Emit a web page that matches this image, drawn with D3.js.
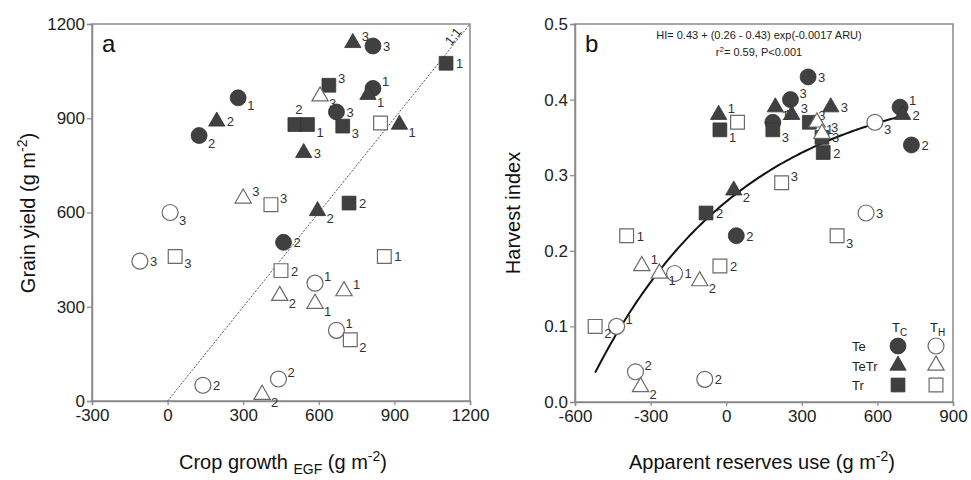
<!DOCTYPE html>
<html>
<head>
<meta charset="utf-8">
<title>Grain yield and harvest index</title>
<script src="https://d3js.org/d3.v7.min.js"></script>
<style>
    body { margin: 0; background: #ffffff; }
    svg { display: block; font-family: Arial, "Liberation Sans", sans-serif; }
</style>
</head>
<body>
<svg id="chart" width="971" height="480"></svg>
<script>
// Point rows: [x, y, year label, label placement]
// Panel a: crop growth EGF vs grain yield
const aTeC   = [[280, 965, '1', 'sub'], [125, 845, '2', 'sub'], [460, 505, '2', 'mid'], [815, 1130, '3', 'mid'], [815, 995, '1', 'sup'], [670, 920, '3', 'mid']];
const aTeTrC = [[195, 890, '2', 'mid'], [735, 1140, '3', 'sup'], [795, 975, '1', 'sub'], [920, 880, '1', 'sub'], [540, 790, '3', 'mid'], [595, 605, '2', 'sub']];
const aTrC   = [[640, 1005, '3', 'sup'], [505, 880, '2', 'top'], [555, 880, '1', 'sub'], [695, 875, '3', 'sub'], [720, 630, '2', 'mid'], [1105, 1075, '1', 'mid']];
const aTeH   = [[10, 600, '3', 'sub'], [-110, 445, '3', 'mid'], [140, 50, '2', 'mid'], [440, 70, '2', 'sup'], [585, 375, '1', 'sup'], [670, 225, '1', 'sup']];
const aTeTrH = [[300, 645, '3', 'sup'], [445, 335, '2', 'sub'], [375, 20, '2', 'sub'], [700, 350, '1', 'sup'], [585, 310, '1', 'sub'], [605, 970, '3', 'sub']];
const aTrH   = [[410, 625, '3', 'sup'], [30, 460, '3', 'sub'], [450, 415, '2', 'mid'], [860, 460, '1', 'mid'], [725, 195, '2', 'sub'], [845, 885, '', 'mid']];

// Panel b: apparent reserves use vs harvest index
const bTeC   = [[325, 0.43, '3', 'mid'], [255, 0.40, '3', 'sup'], [185, 0.37, '1', 'sup'], [690, 0.39, '1', 'sup'], [735, 0.34, '2', 'mid'], [40, 0.22, '2', 'mid']];
const bTeTrC = [[-30, 0.38, '1', 'sup'], [30, 0.28, '2', 'sub'], [195, 0.39, '1', 'sub'], [260, 0.38, '3', 'sup'], [415, 0.39, '3', 'mid'], [700, 0.38, '2', 'mid']];
const bTrC   = [[-25, 0.36, '1', 'sub'], [-80, 0.25, '2', 'mid'], [185, 0.36, '3', 'sub'], [330, 0.37, '3', 'sup'], [380, 0.35, '3', 'mid'], [385, 0.33, '2', 'mid']];
const bTeH   = [[590, 0.37, '3', 'sub'], [555, 0.25, '3', 'mid'], [-205, 0.17, '1', 'mid'], [-435, 0.10, '1', 'sup'], [-360, 0.04, '2', 'sup'], [-85, 0.03, '2', 'mid']];
const bTeTrH = [[360, 0.37, '1', 'sub'], [380, 0.355, '3', 'sup'], [-335, 0.18, '1', 'sup'], [-265, 0.17, '1', 'sub'], [-105, 0.16, '2', 'sub'], [-340, 0.02, '2', 'sub']];
const bTrH   = [[45, 0.37, '', 'mid'], [220, 0.29, '3', 'sup'], [440, 0.22, '3', 'sub'], [-395, 0.22, '1', 'mid'], [-25, 0.18, '2', 'mid'], [-520, 0.10, '2', 'sub']];

// Fitted curve HI = a + (b - a) exp(-c ARU), drawn over the ARU range of the data
const fitA = 0.43, fitB = 0.265, fitC = 0.00166;
const fitRange = [-520, 700];

const xTicksA = [-300, 0, 300, 600, 900, 1200];
const yTicksA = [0, 300, 600, 900, 1200];
const xTicksB = [-600, -300, 0, 300, 600, 900];
const yTicksB = [0, 0.1, 0.2, 0.3, 0.4, 0.5];

const legendRows = ['Te', 'TeTr', 'Tr'];

const FILL = '#404040';
const OPEN_STROKE = '#6a6a6a';
const AXIS = '#8a8a8a';

const svg = d3.select('#chart');

const symbolFor = {
    Te: d3.symbol().type(d3.symbolCircle).size(200),
    TeTr: d3.symbol().type(d3.symbolTriangle).size(115),
    Tr: d3.symbol().type(d3.symbolSquare).size(190)
};

const labelOffset = {
    sub: [9, 12, 'start'],
    mid: [10, 5, 'start'],
    sup: [9, -2, 'start'],
    top: [4, -11, 'middle']
};

// plain hyphen for negatives, as in the original figure
const intFormat = d => String(d);
const decFormat = d => d.toFixed(1);

function drawPanel(cfg) {
    const x = d3.scaleLinear().domain(cfg.xDomain).range([cfg.left, cfg.right]);
    const y = d3.scaleLinear().domain(cfg.yDomain).range([cfg.bottom, cfg.top]);
    const g = svg.append('g');

    // frame
    g.append('rect')
        .attr('x', cfg.left).attr('y', cfg.top)
        .attr('width', cfg.right - cfg.left).attr('height', cfg.bottom - cfg.top)
        .attr('fill', 'none').attr('stroke', AXIS).attr('stroke-width', 1.5);

    const xAxis = g.append('g')
        .attr('transform', `translate(0,${cfg.bottom})`)
        .call(d3.axisBottom(x).tickValues(cfg.xTicks).tickSize(4).tickPadding(4).tickFormat(intFormat));
    const yAxis = g.append('g')
        .attr('transform', `translate(${cfg.left},0)`)
        .call(d3.axisLeft(y).tickValues(cfg.yTicks).tickSize(5).tickPadding(2).tickFormat(cfg.yFormat));

    [xAxis, yAxis].forEach(ax => {
        ax.select('.domain').attr('stroke', AXIS).attr('stroke-width', 1.5);
        ax.selectAll('.tick line').attr('stroke', AXIS).attr('stroke-width', 1.2);
        ax.selectAll('.tick text').attr('fill', '#222').style('font-size', '17px')
            .style('font-family', 'Arial, "Liberation Sans", sans-serif');
    });

    // panel letter
    g.append('text')
        .attr('x', cfg.left + 10).attr('y', cfg.top + 28)
        .style('font-size', '24px').attr('fill', '#111')
        .text(cfg.letter);

    cfg.extra && cfg.extra(g, x, y);

    // points
    const pts = g.append('g');
    cfg.series.forEach(s => {
        s.rows.forEach(r => {
            pts.append('path')
                .attr('d', symbolFor[s.group]())
                .attr('transform', `translate(${x(r[0])},${y(r[1])})`)
                .attr('fill', s.filled ? FILL : '#fff')
                .attr('stroke', s.filled ? '#333' : OPEN_STROKE)
                .attr('stroke-width', s.filled ? 0.8 : 1.2);
            if (r[2]) {
                const o = labelOffset[r[3]];
                pts.append('text')
                    .attr('x', x(r[0]) + o[0]).attr('y', y(r[1]) + o[1])
                    .attr('text-anchor', o[2])
                    .style('font-size', '13px').attr('fill', '#333')
                    .text(r[2]);
            }
        });
    });

    return { x, y, g };
}

// Panel a
drawPanel({
    left: 92, right: 470, top: 24, bottom: 401,
    xDomain: [-300, 1200], yDomain: [0, 1200],
    xTicks: xTicksA, yTicks: yTicksA, yFormat: intFormat,
    letter: 'a',
    series: [
        { rows: aTeC, group: 'Te', filled: true },
        { rows: aTeTrC, group: 'TeTr', filled: true },
        { rows: aTrC, group: 'Tr', filled: true },
        { rows: aTeH, group: 'Te', filled: false },
        { rows: aTeTrH, group: 'TeTr', filled: false },
        { rows: aTrH, group: 'Tr', filled: false }
    ],
    extra: (g, x, y) => {
        // 1:1 line
        g.append('line')
            .attr('x1', x(0)).attr('y1', y(0)).attr('x2', x(1200)).attr('y2', y(1200))
            .attr('stroke', '#555').attr('stroke-width', 1).attr('stroke-dasharray', '2,1.5');
        const ang = Math.atan2(y(1200) - y(0), x(1200) - x(0)) * 180 / Math.PI;
        g.append('text')
            .attr('transform', `translate(${x(1150)},${y(1150)}) rotate(${ang})`)
            .attr('text-anchor', 'middle').attr('dy', -1)
            .style('font-size', '13px').attr('fill', '#222')
            .text('1:1');
    }
});

// Panel b
drawPanel({
    left: 575, right: 953, top: 24, bottom: 402,
    xDomain: [-600, 900], yDomain: [0, 0.5],
    xTicks: xTicksB, yTicks: yTicksB, yFormat: decFormat,
    letter: 'b',
    series: [
        { rows: bTeC, group: 'Te', filled: true },
        { rows: bTeTrC, group: 'TeTr', filled: true },
        { rows: bTrC, group: 'Tr', filled: true },
        { rows: bTeH, group: 'Te', filled: false },
        { rows: bTeTrH, group: 'TeTr', filled: false },
        { rows: bTrH, group: 'Tr', filled: false }
    ],
    extra: (g, x, y) => {
        const xs = d3.range(fitRange[0], fitRange[1] + 1, 10);
        const line = d3.line()
            .x(d => x(d))
            .y(d => y(fitA + (fitB - fitA) * Math.exp(-fitC * d)));
        g.append('path').datum(xs).attr('d', line)
            .attr('fill', 'none').attr('stroke', '#111').attr('stroke-width', 2);

        // equation
        g.append('text')
            .attr('x', 759).attr('y', 39)
            .attr('text-anchor', 'middle')
            .style('font-size', '11px').attr('fill', '#222')
            .text('HI= 0.43 + (0.26 - 0.43) exp(-0.0017 ARU)');
        const r2 = g.append('text')
            .attr('x', 759).attr('y', 56)
            .attr('text-anchor', 'middle')
            .style('font-size', '11px').attr('fill', '#222');
        r2.append('tspan').text('r');
        r2.append('tspan').attr('dy', -4).style('font-size', '8px').text('2');
        r2.append('tspan').attr('dy', 4).text('= 0.59, P<0.001');

        // legend
        const lg = g.append('g');
        const colX = [898, 936];
        ['C', 'H'].forEach((sub, i) => {
            const t = lg.append('text').attr('x', colX[i] - 6).attr('y', 332)
                .style('font-size', '13px').attr('fill', '#222');
            t.append('tspan').text('T');
            t.append('tspan').attr('dy', 4).style('font-size', '10px').text(sub);
        });
        legendRows.forEach((name, i) => {
            const ry = 346 + i * 19.5;
            lg.append('text').attr('x', 852).attr('y', ry + 5)
                .style('font-size', '13px').attr('fill', '#222').text(name);
            lg.append('path').attr('d', symbolFor[name]())
                .attr('transform', `translate(${colX[0]},${ry})`)
                .attr('fill', FILL).attr('stroke', '#333').attr('stroke-width', 0.8);
            lg.append('path').attr('d', symbolFor[name]())
                .attr('transform', `translate(${colX[1]},${ry})`)
                .attr('fill', '#fff').attr('stroke', OPEN_STROKE).attr('stroke-width', 1.2);
        });
    }
});

// axis titles
function unitTitle(t, before, sub) {
    t.append('tspan').text(before);
    if (sub) {
        t.append('tspan').attr('dy', 5).style('font-size', '14px').text(sub);
        t.append('tspan').attr('dy', -5).text(' (g m');
    } else {
        t.append('tspan').text(' (g m');
    }
    t.append('tspan').attr('dy', -8).style('font-size', '14px').text('-2');
    t.append('tspan').attr('dy', 8).text(')');
}

const titleStyle = t => t.attr('text-anchor', 'middle').style('font-size', '20px').attr('fill', '#111');

unitTitle(titleStyle(svg.append('text').attr('x', 283).attr('y', 469)), 'Crop growth ', 'EGF');
unitTitle(titleStyle(svg.append('text').attr('x', 762).attr('y', 469)), 'Apparent reserves use', null);
unitTitle(titleStyle(svg.append('text').attr('transform', 'translate(35,213) rotate(-90)')), 'Grain yield', null);
titleStyle(svg.append('text').attr('transform', 'translate(520,213) rotate(-90)')).text('Harvest index');
</script>
</body>
</html>
